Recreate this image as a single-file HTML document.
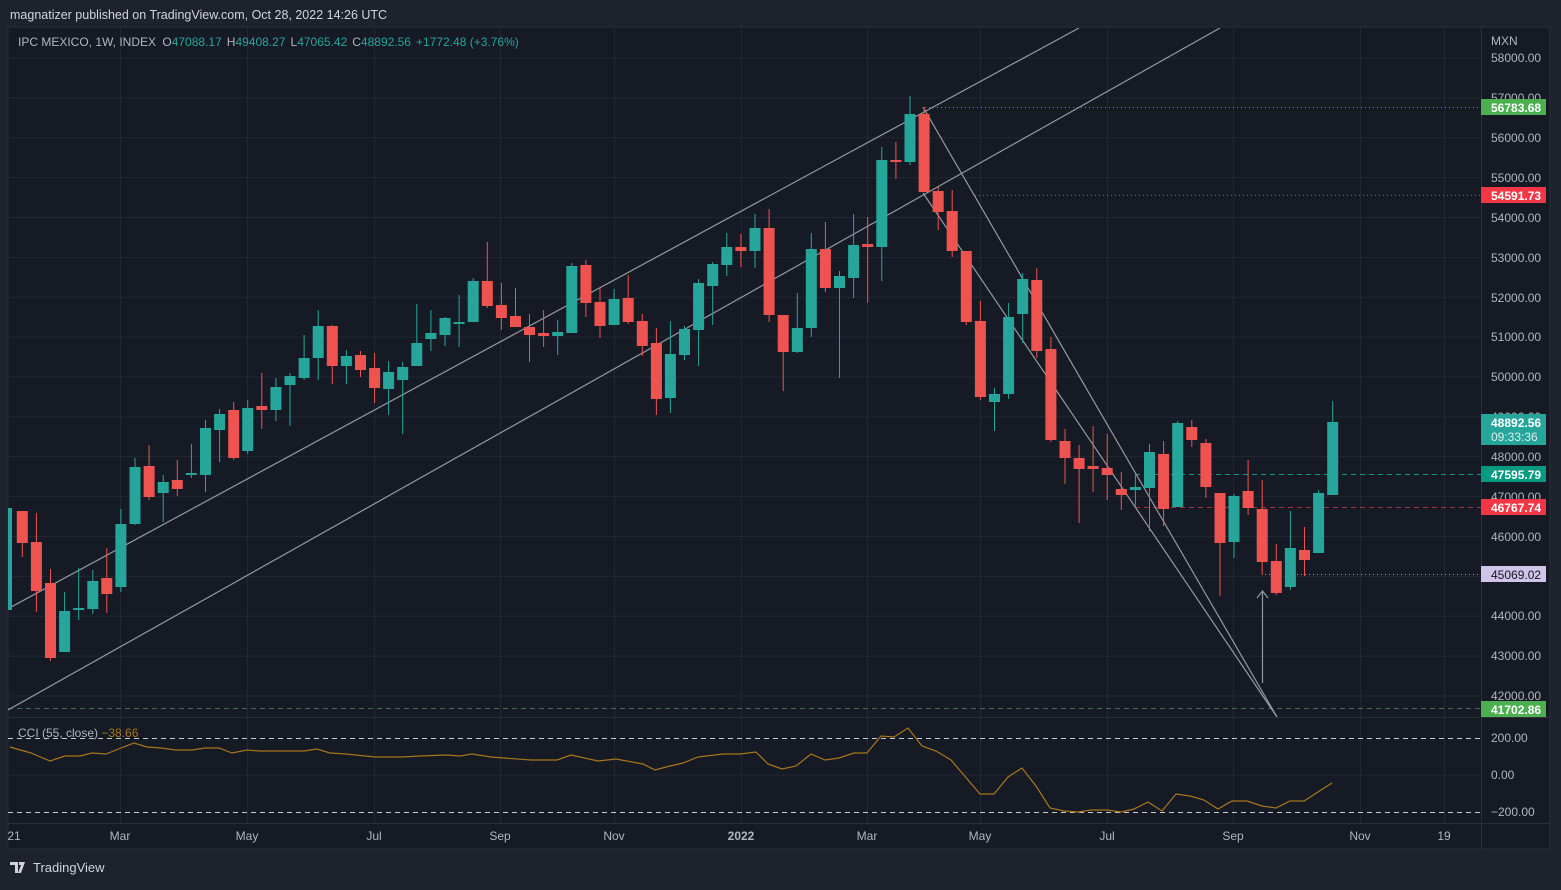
<!DOCTYPE html>
<html><head><meta charset="utf-8"><style>
html,body{margin:0;padding:0;background:#1e222d;}
body{width:1561px;height:885px;overflow:hidden;font-family:"Liberation Sans",sans-serif;}
svg text{font-family:"Liberation Sans",sans-serif;}
</style></head><body>
<svg width="1561" height="885" viewBox="0 0 1561 885" xmlns="http://www.w3.org/2000/svg">
<rect x="0" y="0" width="1561" height="885" fill="#1e222d"/>
<text x="10" y="19" font-size="12.5" fill="#d1d4dc">magnatizer published on TradingView.com, Oct 28, 2022 14:26 UTC</text>
<rect x="8" y="27" width="1542" height="822" fill="#161a25" stroke="#2a2e39" stroke-width="1"/>
<defs><clipPath id="cm"><rect x="8" y="28" width="1473" height="689"/></clipPath>
<clipPath id="cc"><rect x="8" y="718" width="1473" height="105"/></clipPath></defs>
<!-- grid -->
<g stroke="#232733" stroke-width="1">
<path d="M8 58H1481M8 97.9H1481M8 137.8H1481M8 177.6H1481M8 217.5H1481M8 257.4H1481M8 297.3H1481M8 337.1H1481M8 377H1481M8 416.9H1481M8 456.8H1481M8 496.6H1481M8 536.5H1481M8 576.4H1481M8 616.3H1481M8 656.1H1481M8 696H1481M8 775H1481"/>
<path d="M120.5 28V823M247.5 28V823M374.5 28V823M500.5 28V823M614.5 28V823M741.5 28V823M867.5 28V823M980.5 28V823M1107.5 28V823M1233.5 28V823M1360.5 28V823M1444.5 28V823"/>
</g>
<path d="M8 717.5H1550M8 823.5H1550M1481.5 27V849" stroke="#2a2e39" stroke-width="1"/>
<!-- horizontal levels -->
<g clip-path="url(#cm)" stroke-width="1">
<path d="M925 107.5H1481" stroke="#4caf50" stroke-dasharray="1 3"/>
<path d="M975 195.5H1481" stroke="#f23645" stroke-dasharray="1 3"/>
<path d="M1135 474.5H1481" stroke="#089981" stroke-dasharray="5 4"/>
<path d="M1135 507.5H1481" stroke="#9c3340" stroke-dasharray="5 4"/>
<path d="M1265 574.5H1481" stroke="#9598a1" stroke-dasharray="1 3"/>
<path d="M8 708.5H1481" stroke="#4a6a50" stroke-dasharray="5 4"/>
<!-- channel & trend lines -->
<g stroke="#9598a1" stroke-width="1.2" fill="none">
<path d="M8 608.7L1079 28"/>
<path d="M8 710L1220 28"/>
<path d="M923 107L1277 717"/>
<path d="M923 193L1277 717"/>
<path d="M1262.5 683V592M1257 598L1262.5 591L1268 598"/>
</g>
<!-- candles -->
<path fill="none" stroke="#ef5350" stroke-width="1" d="M22.3 511V557M36.4 513V612M50.5 569V661M106.8 548V613M149.1 445V500M177.3 460V496M233.7 402V460M261.8 373V429M332.3 325V384M360.5 351V377M374.6 353V403M487.3 242V308M501.4 283V330M515.5 288V327M529.5 314V362M543.6 310V347M585.9 260V317M600 287V338M628.2 275V324M642.3 314V356M656.4 328V415M740.9 234V267M769.1 209V322M783.2 315V391M825.4 222V292M867.7 217V303M895.9 142V179M924.1 107V192M938.2 187V230M952.2 190V257M966.3 251V325M980.4 301V400M1036.8 268V358M1050.9 337V442M1065 429V484M1079.1 445V523M1093.1 426V492M1107.2 434V500M1121.3 472V510M1163.6 441V526M1191.8 420V447M1205.9 439V498M1220 493V596M1248.1 460V515M1262.2 480V575M1276.3 544V595M1304.5 527V576"/>
<path fill="none" stroke="#26a69a" stroke-width="1" d="M10 508V610M64.6 592V652M78.7 568V620M92.8 570V614M120.9 509V592M135 458V525M163.2 475V522M191.4 444V478M205.5 420V492M219.6 409V462M247.7 400V454M275.9 378V421M290 373V426M304.1 335V380M318.2 310V380M346.4 350V384M388.6 361V415M402.7 362V434M416.8 304V366M430.9 310V351M445 317V346M459.1 295V347M473.2 278V322M557.7 320V355M571.8 263V333M614.1 289V325M670.4 321V413M684.5 326V360M698.6 279V366M712.7 262V325M726.8 233V276M755 214V268M797.3 293V353M811.3 233V337M839.5 271V378M853.6 214V298M881.8 147V281M910 96V165M994.5 388V431M1008.6 303V399M1022.7 273V343M1135.4 474V508M1149.5 444V531M1177.7 421V507M1234 494V558M1290.4 511V590M1318.6 490V553M1332.7 401V495"/>
<path fill="#ef5350" d="M16.8 511h11V543h-11zM30.9 542h11V591h-11zM45 583h11V658h-11zM101.3 578h11V594h-11zM143.6 466h11V497h-11zM171.8 480h11V489h-11zM228.2 410h11V458h-11zM256.3 406h11V410h-11zM326.8 326h11V366h-11zM355 355h11V370h-11zM369.1 368h11V388h-11zM481.8 281h11V306h-11zM495.9 305h11V318h-11zM510 316h11V327h-11zM524 327h11V335h-11zM538.1 333h11V336h-11zM580.4 265h11V303h-11zM594.5 302h11V326h-11zM622.7 298h11V322h-11zM636.8 321h11V346h-11zM650.9 343h11V399h-11zM735.4 247h11V251h-11zM763.6 228h11V315h-11zM777.7 315h11V352h-11zM819.9 249h11V288h-11zM862.2 244h11V247h-11zM890.4 160h11V162h-11zM918.6 114h11V192h-11zM932.7 191h11V212h-11zM946.7 211h11V251h-11zM960.8 251h11V322h-11zM974.9 321h11V397h-11zM1031.3 280h11V351h-11zM1045.4 349h11V440h-11zM1059.5 441h11V458h-11zM1073.6 458h11V469h-11zM1087.6 466h11V469h-11zM1101.7 468h11V475h-11zM1115.8 489h11V495h-11zM1158.1 454h11V509h-11zM1186.3 427h11V440h-11zM1200.4 443h11V487h-11zM1214.5 493h11V543h-11zM1242.6 491h11V508h-11zM1256.7 509h11V562h-11zM1270.8 561h11V593h-11zM1299 550h11V560h-11z"/>
<path fill="#26a69a" d="M8 508h4V610h-4zM59.1 611h11V652h-11zM73.2 608h11V610h-11zM87.3 581h11V609h-11zM115.4 524h11V587h-11zM129.5 467h11V524h-11zM157.7 482h11V493h-11zM185.9 473h11V475h-11zM200 428h11V475h-11zM214.1 414h11V430h-11zM242.2 408h11V451h-11zM270.4 387h11V410h-11zM284.5 376h11V385h-11zM298.6 358h11V378h-11zM312.7 326h11V358h-11zM340.9 356h11V366h-11zM383.1 372h11V389h-11zM397.2 367h11V380h-11zM411.3 343h11V366h-11zM425.4 333h11V339h-11zM439.5 318h11V335h-11zM453.6 322h11V324h-11zM467.7 281h11V322h-11zM552.2 332h11V336h-11zM566.3 266h11V333h-11zM608.6 299h11V325h-11zM664.9 354h11V398h-11zM679 329h11V355h-11zM693.1 283h11V330h-11zM707.2 264h11V286h-11zM721.3 247h11V265h-11zM749.5 228h11V251h-11zM791.8 328h11V352h-11zM805.8 249h11V328h-11zM834 276h11V288h-11zM848.1 245h11V278h-11zM876.3 160h11V247h-11zM904.5 114h11V162h-11zM989 394h11V402h-11zM1003.1 317h11V394h-11zM1017.2 279h11V314h-11zM1129.9 487h11V490h-11zM1144 452h11V488h-11zM1172.2 423h11V507h-11zM1228.5 496h11V542h-11zM1284.9 548h11V587h-11zM1313.1 493h11V553h-11zM1327.2 422h11V495h-11z"/>
</g>
<!-- legend -->
<text x="18" y="46" font-size="12" fill="#b2b5be">IPC MEXICO, 1W, INDEX <tspan dx="3">O</tspan><tspan fill="#26a69a">47088.17</tspan><tspan dx="5">H</tspan><tspan fill="#26a69a">49408.27</tspan><tspan dx="5">L</tspan><tspan fill="#26a69a">47065.42</tspan><tspan dx="5">C</tspan><tspan fill="#26a69a">48892.56</tspan><tspan dx="5" fill="#26a69a">+1772.48 (+3.76%)</tspan></text>
<!-- CCI -->
<g clip-path="url(#cc)">
<path d="M8 738.5H1481M8 812.5H1481" stroke="#c8cad0" stroke-width="1" stroke-dasharray="5 4"/>
<polyline fill="none" stroke="#a8761a" stroke-width="1.2" points="10,747 31,753 50,761 65,756 80,756 92,753 106,754 121,748 134,743 147,747 161,748 176,750 192,750 205,748 219,748 232,753 247,750 259,751 304,751 317,749 330,753 346,754 375,757 402,757 420,756 446,755 460,756 472,754 491,757 504,758 531,760 557,760 571,755 598,761 616,759 643,764 655,770 670,766 683,763 698,757 723,754 740,754 756,752 768,764 782,769 796,766 811,754 825,760 839,758 854,753 867,753 881,736 894,737 908,728 922,746 936,751 951,760 980,794 994,794 1008,777 1022,768 1036,786 1050,808 1064,811 1078,812 1091,810 1107,810 1121,812 1134,809 1148,802 1162,811 1176,794 1190,796 1204,800 1218,809 1232,801 1247,801 1262,806 1276,808 1290,801 1304,801 1332,783"/>
</g>
<text x="18" y="737" font-size="12" fill="#b2b5be">CCI (55, close) <tspan fill="#a8761a">−38.66</tspan></text>
<!-- price axis -->
<g font-size="12" fill="#b2b5be">
<text x="1491" y="45">MXN</text>
<text x="1491" y="62">58000.00</text><text x="1491" y="102">57000.00</text><text x="1491" y="142">56000.00</text><text x="1491" y="182">55000.00</text><text x="1491" y="222">54000.00</text><text x="1491" y="262">53000.00</text><text x="1491" y="302">52000.00</text><text x="1491" y="341">51000.00</text><text x="1491" y="381">50000.00</text><text x="1491" y="421">49000.00</text><text x="1491" y="461">48000.00</text><text x="1491" y="501">47000.00</text><text x="1491" y="541">46000.00</text><text x="1491" y="620">44000.00</text><text x="1491" y="660">43000.00</text><text x="1491" y="700">42000.00</text>
<text x="1491" y="742">200.00</text><text x="1491" y="779">0.00</text><text x="1491" y="816">−200.00</text>
</g>
<g font-size="12" font-weight="bold" fill="#ffffff">
<rect x="1481" y="99" width="65" height="16" fill="#4caf50"/><text x="1491" y="112">56783.68</text>
<rect x="1481" y="187" width="65" height="16" fill="#f23645"/><text x="1491" y="200">54591.73</text>
<rect x="1481" y="414" width="65" height="31" fill="#26a69a"/><text x="1491" y="427">48892.56</text><text x="1491" y="441" font-weight="normal" fill="#d8f0ee">09:33:36</text>
<rect x="1481" y="466" width="65" height="16" fill="#089981"/><text x="1491" y="479">47595.79</text>
<rect x="1481" y="499" width="65" height="16" fill="#f23645"/><text x="1491" y="512">46767.74</text>
<rect x="1481" y="566" width="65" height="16" fill="#d1c4e9"/><text x="1491" y="579" font-weight="normal" fill="#131722">45069.02</text>
<rect x="1481" y="701" width="65" height="16" fill="#4caf50"/><text x="1491" y="714">41702.86</text>
</g>
<!-- time axis -->
<g font-size="12" fill="#b2b5be" text-anchor="middle">
<text x="14" y="840">21</text><text x="120" y="840">Mar</text><text x="247" y="840">May</text><text x="374" y="840">Jul</text><text x="500" y="840">Sep</text><text x="614" y="840">Nov</text><text x="741" y="840" font-weight="bold">2022</text><text x="867" y="840">Mar</text><text x="980" y="840">May</text><text x="1107" y="840">Jul</text><text x="1233" y="840">Sep</text><text x="1360" y="840">Nov</text><text x="1444" y="840">19</text>
</g>
<!-- footer -->
<path d="M10 862h8v11h-3v-8h-5zM19 862h3l3 0-4 11h-3l3-8h-2z" fill="#d1d4dc"/>
<text x="33" y="872" font-size="13" fill="#d1d4dc">TradingView</text>
</svg>
</body></html>
